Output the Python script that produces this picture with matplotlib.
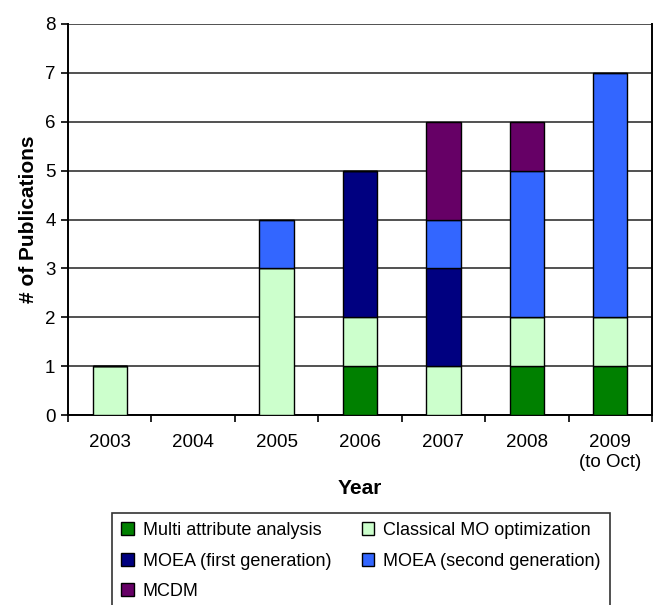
import matplotlib
matplotlib.use("Agg")
import matplotlib.pyplot as plt
from matplotlib.patches import Patch
from matplotlib.ticker import FixedLocator
import numpy as np

plt.rcParams['font.family'] = ['Liberation Sans', 'DejaVu Sans']

years = ["2003", "2004", "2005", "2006", "2007", "2008", "2009\n(to Oct)"]
series_names = ["Multi attribute analysis", "Classical MO optimization",
                "MOEA (first generation)", "MOEA (second generation)", "MCDM"]
multi_attr = [0, 0, 0, 1, 0, 1, 1]
classical_mo = [1, 0, 3, 1, 1, 1, 1]
moea_first = [0, 0, 0, 3, 2, 0, 0]
moea_second = [0, 0, 1, 0, 1, 3, 5]
mcdm = [0, 0, 0, 0, 2, 1, 0]
colors = ["#008000", "#CCFFCC", "#000080", "#3366FF", "#660066"]

fig = plt.figure(figsize=(6.59, 6.05), dpi=100)
ax = fig.add_axes([68 / 659, 1 - 415 / 605, (652 - 68) / 659, (415 - 24) / 605])

x = np.arange(len(years))
bottom = np.zeros(len(years))
for name, vals, col in zip(series_names,
                           [multi_attr, classical_mo, moea_first, moea_second, mcdm],
                           colors):
    vals = np.array(vals, dtype=float)
    ax.bar(x, vals, width=0.41, bottom=bottom, color=col, edgecolor="black",
           linewidth=1.0, zorder=3, label=name)
    bottom += vals

ax.set_xlim(-0.5, len(years) - 0.5)
ax.set_ylim(0, 8)
ax.set_yticks(range(0, 9))
ax.yaxis.grid(True, color="#333333", linewidth=1.2, zorder=0)
ax.set_axisbelow(True)

ax.set_xticks(x)
ax.set_xticklabels(years, fontsize=13.5)
ax.xaxis.set_minor_locator(FixedLocator(np.arange(-0.5, len(years), 1.0)))
ax.tick_params(axis="x", which="major", length=0, pad=14)
ax.tick_params(axis="x", which="minor", length=5, width=1.2, direction="out")
ax.tick_params(axis="y", length=5, width=1.2, direction="out", labelsize=13.5, pad=4)

for side in ["left", "bottom", "right"]:
    ax.spines[side].set_linewidth(1.4)
    ax.spines[side].set_color("black")
ax.spines["top"].set_visible(False)

ax.set_xlabel("Year", fontsize=15, fontweight="bold", labelpad=6)
ax.set_ylabel("# of Publications", fontsize=15, fontweight="bold", labelpad=5)

# legend entries are laid out row by row: two per row
order = [0, 2, 4, 1, 3]
handles = [Patch(facecolor=colors[i], edgecolor="black", linewidth=1.0) for i in order]
labels = [series_names[i] for i in order]
leg = fig.legend(handles, labels, ncol=2, loc="upper left",
                 bbox_to_anchor=(112 / 659, 1 - 513 / 605, (610 - 112) / 659, 0),
                 mode="expand", borderaxespad=0, fontsize=13, frameon=True,
                 fancybox=False, edgecolor="black", handlelength=0.7,
                 handleheight=0.7, handletextpad=0.5, labelspacing=0.75,
                 borderpad=0.5)
leg.get_frame().set_linewidth(1.2)

fig.savefig("out.png", dpi=100)
